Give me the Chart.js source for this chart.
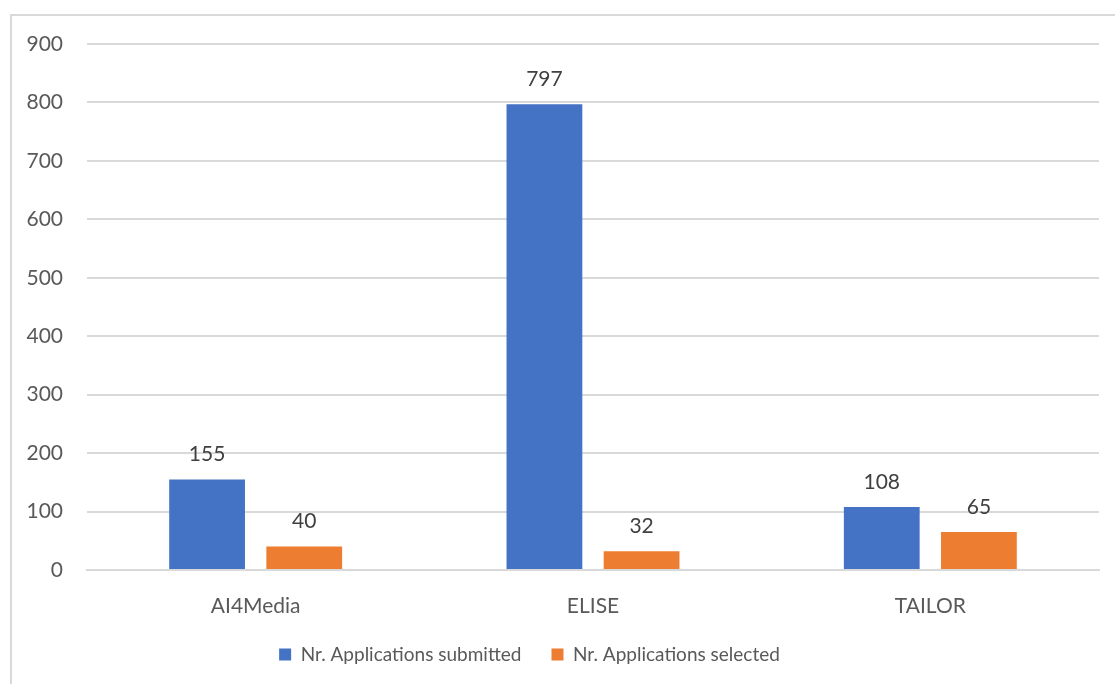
<!DOCTYPE html>
<html>
<head>
<meta charset="utf-8">
<script src="https://cdn.jsdelivr.net/npm/chart.js@4"></script>
<style>
  html, body { margin: 0; padding: 0; background: #ffffff; }
  #wrap { width: 1115px; height: 684px; position: relative; }
</style>
</head>
<body>
<div id="wrap"><canvas id="graf"></canvas></div>
<script>
const projets = ['AI4Media', 'ELISE', 'TAILOR'];
const soumises = [155, 797, 108];
const retenues = [40, 32, 65];
const ticks_y = [0, 100, 200, 300, 400, 500, 600, 700, 800, 900];

const police = 'Lato, "Open Sans", sans-serif';

// cadre gris autour du graphique
const cadre = {
  id: 'cadre',
  beforeDraw(chart) {
    const c = chart.ctx;
    c.save();
    c.fillStyle = '#ffffff';
    c.fillRect(0, 0, chart.width, chart.height);
    c.strokeStyle = '#d9d9d9';
    c.lineWidth = 2;
    c.strokeRect(11, 15, chart.width + 20, chart.height + 20);
    c.restore();
  }
};

// la légende est un peu décalée vers la gauche dans l'original
const decalage = {
  id: 'decalage',
  afterLayout(chart) {
    const l = chart.legend;
    l.left -= 20;
    l.right -= 20;
  }
};

// valeurs au-dessus des barres
const etiquettes = {
  id: 'etiquettes',
  afterDatasetsDraw(chart) {
    const c = chart.ctx;
    c.save();
    c.font = '21px ' + police;
    c.fillStyle = '#404040';
    c.textAlign = 'center';
    c.textBaseline = 'middle';
    chart.data.datasets.forEach((ds, i) => {
      chart.getDatasetMeta(i).data.forEach((bar, j) => {
        c.fillText(ds.data[j], bar.x, bar.y - 25);
      });
    });
    c.restore();
  }
};

new Chart(document.getElementById('graf'), {
  type: 'bar',
  data: {
    labels: projets,
    datasets: [{
      label: 'Nr. Applications submitted',
      data: soumises,
      backgroundColor: '#4472C4',
      categoryPercentage: 0.576,
      barPercentage: 0.78
    }, {
      label: 'Nr. Applications selected',
      data: retenues,
      backgroundColor: '#ED7D31',
      categoryPercentage: 0.576,
      barPercentage: 0.78
    }]
  },
  options: {
    responsive: true,
    maintainAspectRatio: false,
    animation: false,
    layout: { padding: { top: 44, right: 16, bottom: 10, left: 0 } },
    plugins: {
      tooltip: { enabled: false },
      legend: {
        position: 'bottom',
        labels: {
          color: '#595959',
          boxWidth: 12,
          boxHeight: 12,
          padding: 30,
          font: { family: police, size: 19 }
        }
      }
    },
    scales: {
      x: {
        grid: { display: false, drawTicks: false },
        border: { color: '#d9d9d9', width: 2 },
        ticks: { color: '#595959', padding: 24, font: { family: police, size: 21 } },
        afterFit: (s) => { s.height = 45; }
      },
      y: {
        min: 0,
        max: 900,
        afterBuildTicks: (s) => { s.ticks = ticks_y.map(v => ({ value: v })); },
        grid: { color: '#d9d9d9', lineWidth: 2, drawTicks: false },
        border: { display: false },
        ticks: { color: '#595959', padding: 24, font: { family: police, size: 21 } },
        afterFit: (s) => { s.width = 87; }
      }
    }
  },
  plugins: [cadre, decalage, etiquettes]
});
</script>
</body>
</html>
